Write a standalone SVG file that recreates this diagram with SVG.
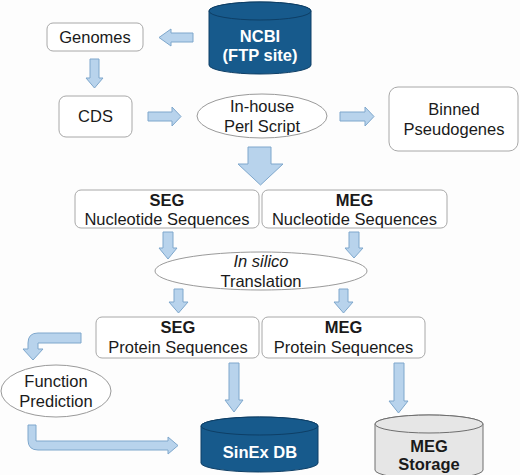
<svg xmlns="http://www.w3.org/2000/svg" width="520" height="475" viewBox="0 0 520 475">
<style>
text{font-family:"Liberation Sans",Arial,sans-serif;font-size:16.5px;fill:#1a1a1a;text-anchor:middle}
.b{font-weight:bold}
.w{fill:#ffffff;font-weight:bold}
.box{fill:#ffffff;stroke:#a8a8a8;stroke-width:1}
.ell{fill:#ffffff;stroke:#9a9a9a;stroke-width:1}
.arr{fill:#b8d3ec;stroke:#7ea7cc;stroke-width:1}
.cyl{fill:#175a8c;stroke:#0e3f66;stroke-width:1}
.cylg{fill:#e6e6e6;stroke:#6e6e6e;stroke-width:1}
</style>
<rect width="520" height="475" fill="#fdfdfd"/>
<g id="connectors">
<path class="arr" d="M193,33 H171 V29 L159,37.5 L171,46 V42 H193 Z"/>
<path class="arr" d="M90,59 H99 V78 H103 L94.5,88 L86,78 H90 Z"/>
<path class="arr" d="M148,112 H172 V107 L181,116.5 L172,126 V121 H148 Z"/>
<path class="arr" d="M340,112 H365 V107 L374,116.5 L365,126 V121 H340 Z"/>
<path class="arr" d="M248,147 H271 V164 H283 L260.5,185 L238,164 H248 Z"/>
<path class="arr" d="M163,232 H173 V248 H177 L168,259 L159,248 H163 Z"/>
<path class="arr" d="M349,232 H359 V248 H363 L354,258 L345,248 H349 Z"/>
<path class="arr" d="M174,289 H183 V302 H188 L178.5,313 L169,302 H174 Z"/>
<path class="arr" d="M339,289 H348 V302 H353 L343.5,313 L334,302 H339 Z"/>
<path class="arr" d="M229,363 H239 V400 H243 L234,412 L225,400 H229 Z"/>
<path class="arr" d="M394,363 H404 V401 H408 L398.5,413 L389,401 H394 Z"/>
<path class="arr" d="M81,333 V343 H38 V349 H43 L33,360 L23,349 H28 V343 Q28,333 38,333 Z"/>
<path class="arr" d="M28,425 H36 V441 H168 V437 L178,445.5 L168,454 V450 H38 Q28,450 28,440 Z"/>
</g>
<g id="ncbi">
<path class="cyl" d="M209,11 V65 A51,9 0 0 0 311,65 V11 A51,9 0 0 0 209,11 Z"/>
<ellipse class="cyl" cx="260" cy="11" rx="51" ry="9"/>
<text class="w" x="260" y="42">NCBI</text>
<text class="w" x="260" y="61">(FTP site)</text>
</g>
<g id="genomes">
<rect class="box" x="47" y="23" width="96" height="28" rx="6"/>
<text x="95" y="43">Genomes</text>
</g>
<g id="cds">
<rect class="box" x="59" y="96" width="73" height="41" rx="7"/>
<text x="95.5" y="122">CDS</text>
</g>
<g id="inhouse">
<ellipse class="ell" cx="262" cy="116" rx="65" ry="22"/>
<text x="262" y="112">In-house</text>
<text x="262" y="132">Perl Script</text>
</g>
<g id="binned">
<rect class="box" x="389" y="87" width="129" height="64" rx="9"/>
<text x="454" y="115">Binned</text>
<text x="454" y="135">Pseudogenes</text>
</g>
<g id="seg_nuc">
<rect class="box" x="75" y="190" width="184" height="38" rx="6"/>
<text class="b" x="167" y="206">SEG</text>
<text x="167" y="225">Nucleotide Sequences</text>
</g>
<g id="meg_nuc">
<rect class="box" x="262" y="190" width="185" height="38" rx="6"/>
<text class="b" x="354.5" y="206">MEG</text>
<text x="354.5" y="225">Nucleotide Sequences</text>
</g>
<g id="insilico">
<ellipse class="ell" cx="261" cy="271" rx="106" ry="19"/>
<text x="261" y="267" font-style="italic">In silico</text>
<text x="261" y="287">Translation</text>
</g>
<g id="seg_prot">
<rect class="box" x="96" y="317" width="163" height="41" rx="6"/>
<text class="b" x="178" y="333">SEG</text>
<text x="178" y="353">Protein Sequences</text>
</g>
<g id="meg_prot">
<rect class="box" x="262" y="317" width="163" height="41" rx="6"/>
<text class="b" x="343.5" y="333">MEG</text>
<text x="343.5" y="353">Protein Sequences</text>
</g>
<g id="function">
<ellipse class="ell" cx="56" cy="391" rx="55" ry="26"/>
<text x="56" y="387">Function</text>
<text x="56" y="407">Prediction</text>
</g>
<g id="sinex">
<path class="cyl" d="M201,426 V463 A58.5,9 0 0 0 318,463 V426 A58.5,9 0 0 0 201,426 Z"/>
<ellipse class="cyl" cx="259.5" cy="426" rx="58.5" ry="9"/>
<text class="w" x="260" y="458">SinEx DB</text>
</g>
<g id="megstorage">
<path class="cylg" d="M375,424 V470 A54,9 0 0 0 483,470 V424 A54,9 0 0 0 375,424 Z"/>
<ellipse class="cylg" cx="429" cy="424" rx="54" ry="9"/>
<text class="b" x="429" y="452">MEG</text>
<text class="b" x="429" y="470">Storage</text>
</g>
</svg>
